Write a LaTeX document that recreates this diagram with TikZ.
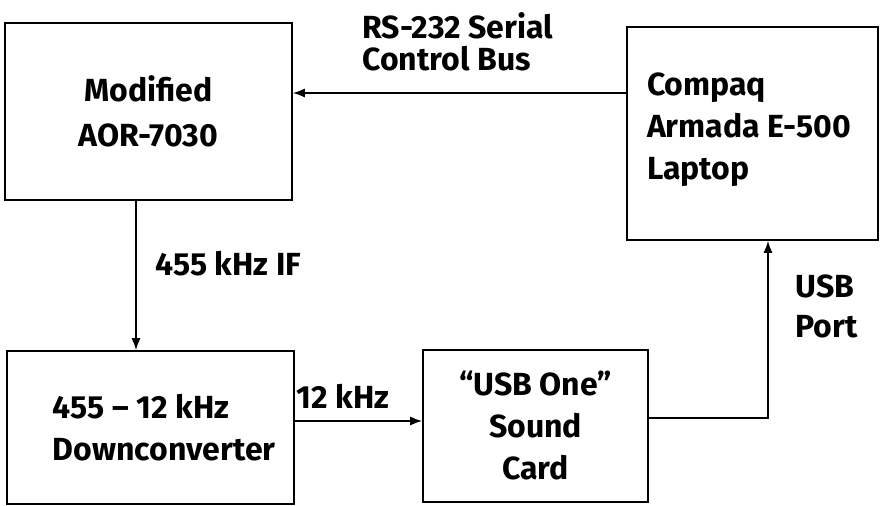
\documentclass[tikz,border=0pt]{standalone}
\usepackage{fontspec}
\setmainfont{Fira Sans}
\usetikzlibrary{arrows.meta}

\begin{document}
\begin{tikzpicture}[x=0.5pt, y=-0.5pt,
    box/.style = {draw, line width=0.8pt, inner sep=0pt, align=center},
    lbl/.style = {inner sep=0pt, align=flush left},
    link/.style = {line width=0.8pt, -{Latex[length=6pt, width=4.5pt]}},
    font=\fontsize{16}{21}\selectfont\bfseries]
                \useasboundingbox (0,0) rectangle (880,505);
                % Blocs
                \node[box, minimum width=143.5pt, minimum height=88.5pt,
                      font=\fontsize{16}{22.5}\selectfont\bfseries] (aor) at (148.5,111.5) {Modified\\AOR-7030};
                \node[box, minimum width=125.5pt, minimum height=106.5pt, text width=105.5pt, inner xsep=10pt,
                      text depth=49pt, align=flush left] (laptop) at (752.5,133.5) {Compaq\\Armada E-500\\Laptop};
                \node[box, minimum width=143.5pt, minimum height=76.5pt, text width=97.5pt, inner xsep=23pt,
                      align=flush left] (downconv) at (150.5,427.5) {455 – 12 kHz\\\mbox{Downconverter}};
                \node[box, minimum width=112.5pt, minimum height=76pt] (card) at (535.5,426) {“USB One”\\Sound\\Card};

                % Points de connexion
                \coordinate (busin) at ([yshift=9.25pt]aor.east);
                \coordinate (ifout) at ([xshift=-6.25pt]aor.south);
                \coordinate (lowout) at ([yshift=3.25pt]downconv.east);
                \coordinate (cardout) at ([yshift=4pt]card.east);
                \coordinate (usbin) at ([xshift=7.75pt]laptop.south);

                % Liaisons
                \draw[link] (laptop.west |- busin) -- (busin);
                \draw[link] (ifout) -- (ifout |- downconv.north);
                \draw[link] (lowout) -- (card.west |- lowout);
                \draw[link] (cardout) -| (usbin);

                % Etiquettes
                \node[lbl, anchor=north west, font=\fontsize{16}{16}\selectfont\bfseries] (buslbl) at (362,12) {RS-232 Serial\\Control Bus};
                \node[lbl, anchor=base west] (iflbl) at (155,275) {455 kHz IF};
                \node[lbl, anchor=base west] (khzlbl) at (296,408) {12 kHz};
                \node[lbl, anchor=north west, font=\fontsize{16}{20}\selectfont\bfseries] (usblbl) at (795,274) {USB\\Port};
\end{tikzpicture}
\end{document}
